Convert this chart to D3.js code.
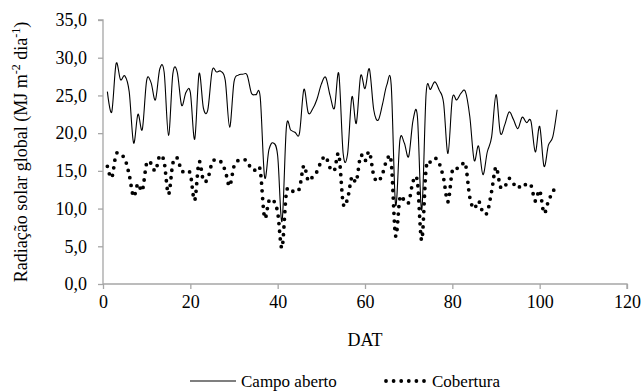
<!DOCTYPE html>
<meta charset="utf-8">
<script src="https://cdn.jsdelivr.net/npm/d3@7"></script>
<head>
<style>
    body { margin: 0; background: #fff; }
    text { font-family: "Liberation Serif", "Times New Roman", serif; fill: #000; }
</style>
</head>
<body>
<script>

    // radiação diária (MJ m-2 dia-1), dia 1 .. 104
    var campoAberto = [
        25.5, 22.8, 29.2, 27.1, 27.6, 25.5, 18.7, 22.5, 20.5, 27.0,
        26.7, 24.4, 28.5, 28.1, 19.7, 27.9, 28.1, 23.7, 25.4, 25.4,
        19.2, 27.9, 23.3, 23.1, 28.3, 28.1, 28.2, 27.0, 20.8, 26.8,
        27.7, 27.8, 27.7, 25.3, 25.1, 24.8, 14.2, 17.8, 18.7, 17.0,
        8.3, 20.8, 20.4, 20.1, 20.0, 25.8, 22.7, 23.2, 24.5, 26.5,
        27.4, 25.0, 23.3, 27.9, 17.3, 17.2, 24.8, 21.3, 27.6, 25.9,
        28.5, 23.1, 21.7, 23.8, 26.4, 26.4, 10.5, 19.1, 18.7, 16.9,
        21.7, 22.2, 9.8, 25.3, 25.8, 26.8, 25.7, 24.0, 17.3, 24.6,
        24.4, 25.3, 25.5, 22.2, 16.4, 18.3, 14.5, 17.5, 19.5, 25.1,
        20.0, 21.1, 22.8, 21.8, 20.6, 22.1, 21.4, 21.6, 17.5, 20.9,
        15.6, 18.4, 19.5, 23.1
    ];

    var cobertura = [
        15.6, 14.1, 17.2, 17.1, 16.6, 14.5, 11.6, 13.3, 12.4, 16.0,
        16.0, 15.0, 17.0, 16.2, 11.9, 16.0, 16.7, 15.0, 15.0, 14.6,
        11.1, 16.2, 13.7, 14.0, 16.1, 16.5, 16.2, 15.0, 13.0, 15.6,
        16.4, 16.5, 16.3, 15.2, 15.1, 15.1, 8.8, 11.0, 11.1, 9.5,
        4.8, 12.1, 12.4, 12.2, 12.7, 15.7, 13.7, 14.2, 14.9, 16.3,
        16.9, 15.4, 15.1, 17.2, 10.7, 11.3, 14.2, 13.6, 17.0, 16.3,
        17.5, 14.4, 13.6, 14.6, 16.4, 16.2, 6.4, 11.4, 11.1, 10.8,
        13.6, 13.6, 5.8, 15.3, 16.2, 16.7, 16.0, 14.0, 10.9, 15.0,
        15.3, 15.6, 15.9, 11.5, 10.0, 11.0, 9.5, 9.5, 12.3, 15.5,
        12.9, 12.9, 14.0, 13.3, 12.7, 13.3, 13.1, 13.1, 11.0, 12.4,
        9.4, 11.0, 12.2, 13.2
    ];

    var xTicks = [0, 20, 40, 60, 80, 100, 120];
    var yTicks = [0, 5, 10, 15, 20, 25, 30, 35];
    var seriesNames = ["Campo aberto", "Cobertura"];

    var width = 641;
    var height = 391;
    var plotLeft = 103, plotRight = 627, plotTop = 20, plotBottom = 284;
    var axisColor = "#a6a6a6";

    var fmt = function(d) { return d3.format(".1f")(d).replace(".", ","); };

    var x = d3.scaleLinear().domain([0, 120]).range([plotLeft, plotRight]);
    var y = d3.scaleLinear().domain([0, 35]).range([plotBottom, plotTop]);

    var svg = d3.select("body").append("svg")
        .attr("width", width)
        .attr("height", height);

    // eixos
    var yAxis = svg.append("g")
        .attr("transform", "translate(" + plotLeft + ",0)")
        .call(d3.axisLeft(y).tickValues(yTicks).tickFormat(fmt).tickSize(5).tickPadding(11));

    var xAxis = svg.append("g")
        .attr("transform", "translate(0," + plotBottom + ")")
        .call(d3.axisBottom(x).tickValues(xTicks).tickSize(5).tickPadding(6));

    [xAxis, yAxis].forEach(function(ax) {
        ax.select(".domain").attr("stroke", axisColor).attr("stroke-width", 1.3)
            .attr("d", ax === xAxis
                ? "M" + plotLeft + ",0H" + plotRight + "V5"
                : "M-5," + plotTop + "H0V" + plotBottom);
        ax.selectAll(".tick line").attr("stroke", axisColor).attr("stroke-width", 1.3);
        ax.selectAll(".tick text")
            .style("font-family", "'Liberation Serif', serif")
            .style("font-size", "18px")
            .attr("fill", "#000");
    });

    var line = d3.line()
        .x(function(d, i) { return x(i + 1); })
        .y(function(d) { return y(d); })
        .curve(d3.curveCatmullRom.alpha(0));

    svg.append("path")
        .datum(campoAberto)
        .attr("d", line)
        .attr("fill", "none")
        .attr("stroke", "#000")
        .attr("stroke-width", 1.1);

    svg.append("path")
        .datum(cobertura)
        .attr("d", line)
        .attr("fill", "none")
        .attr("stroke", "#000")
        .attr("stroke-width", 3.8)
        .attr("stroke-linecap", "round")
        .attr("stroke-dasharray", "0,7.6");

    // títulos
    var yTitle = svg.append("text")
        .attr("transform", "translate(27," + ((plotTop + plotBottom) / 2) + ") rotate(-90)")
        .attr("text-anchor", "middle")
        .style("font-size", "18px");
    yTitle.append("tspan").text("Radiação solar global (MJ m");
    yTitle.append("tspan").attr("dy", -7).style("font-size", "12px").text("-2");
    yTitle.append("tspan").attr("dy", 7).text(" dia");
    yTitle.append("tspan").attr("dy", -7).style("font-size", "12px").text("-1");
    yTitle.append("tspan").attr("dy", 7).text(")");

    svg.append("text")
        .attr("x", (plotLeft + plotRight) / 2)
        .attr("y", 346)
        .attr("text-anchor", "middle")
        .style("font-size", "18px")
        .text("DAT");

    // legenda
    var legend = svg.append("g").attr("transform", "translate(0,381)");

    legend.append("line")
        .attr("x1", 190).attr("x2", 236)
        .attr("y1", 0).attr("y2", 0)
        .attr("stroke", "#000")
        .attr("stroke-width", 1.1);
    legend.append("text")
        .attr("x", 241).attr("y", 6)
        .style("font-size", "17px")
        .text(seriesNames[0]);

    legend.append("line")
        .attr("x1", 386).attr("x2", 425)
        .attr("y1", 0).attr("y2", 0)
        .attr("stroke", "#000")
        .attr("stroke-width", 3.8)
        .attr("stroke-linecap", "round")
        .attr("stroke-dasharray", "0,7.6");
    legend.append("text")
        .attr("x", 432).attr("y", 6)
        .style("font-size", "17px")
        .text(seriesNames[1]);

</script>
</body>
</html>
